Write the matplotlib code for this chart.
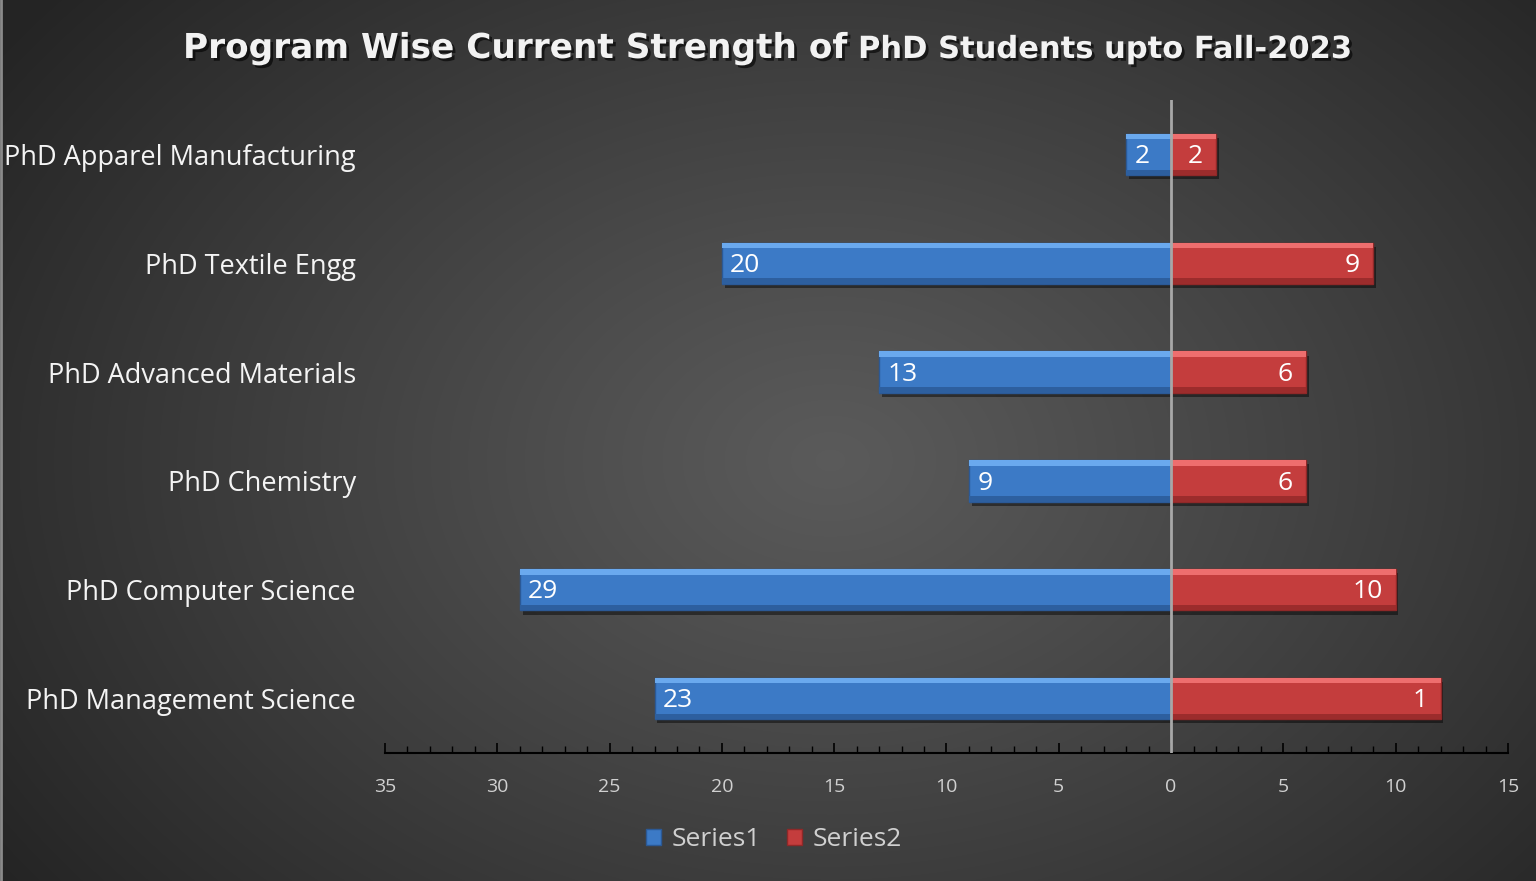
import numpy as np
import matplotlib
matplotlib.use("Agg")
import matplotlib.pyplot as plt
from matplotlib import patheffects as pe
from matplotlib.patches import Patch
from matplotlib.ticker import MultipleLocator, FuncFormatter

# ---------------- data ----------------
categories = ["PhD Management Science", "PhD Computer Science", "PhD Chemistry",
              "PhD Advanced Materials", "PhD Textile Engg", "PhD Apparel Manufacturing"]
series1 = [23, 29, 9, 13, 20, 2]
series2 = [12, 10, 6, 6, 9, 2]
series1_labels = ["23", "29", "9", "13", "20", "2"]
series2_labels = ["1", "10", "6", "6", "9", "2"]
series_names = ["Series1", "Series2"]
x_limits = (-35, 15)
title_main = "Program Wise Current Strength of"
title_sub = "PhD Students upto Fall-2023"

FONT = "Open Sans"
TFONT = "DejaVu Sans"
W, H = 1536, 881
fig = plt.figure(figsize=(W / 100, H / 100), dpi=100)

# ---------------- background radial gradient ----------------
bg = fig.add_axes([0, 0, 1, 1])
bg.axis("off")
yy, xx = np.mgrid[0:H, 0:W]
r = np.sqrt(((xx - 830) / 1000.0) ** 2 + ((yy - 460) / 720.0) ** 2)
r = np.clip(r, 0, 1)
v = 0.355 - 0.21 * r ** 1.1
img = np.dstack([v, v, v])
bg.imshow(img, extent=[0, W, H, 0], aspect="auto", interpolation="bilinear")
bg.set_xlim(0, W)
bg.set_ylim(H, 0)
bg.plot([1, 1], [0, H], color="#8a8a8a", lw=2)

# ---------------- main axes ----------------
ax = fig.add_axes([385 / W, 1 - 753 / H, (1508 - 385) / W, (753 - 100) / H])
ax.patch.set_alpha(0)
y = np.arange(len(categories))
s1 = -np.array(series1, dtype=float)
s2 = np.array(series2, dtype=float)
bh = 0.38
strip = 0.05

blue, blue_hi, blue_lo, blue_edge = "#3c7ac6", "#6aa9ee", "#2d5f9f", "#2b5996"
red, red_hi, red_lo, red_edge = "#c43d3d", "#ee6e6e", "#9c2c2c", "#8f2828"

shadow = [pe.SimplePatchShadow(offset=(2, -3), shadow_rgbFace="black", alpha=0.45), pe.Normal()]

for vals, c, chi, clo, ce in [(s1, blue, blue_hi, blue_lo, blue_edge),
                              (s2, red, red_hi, red_lo, red_edge)]:
    bars = ax.barh(y, vals, height=bh, color=c, edgecolor=ce, linewidth=1, zorder=2)
    for b in bars:
        b.set_path_effects(shadow)
    ax.barh(y + bh / 2 - strip / 2, vals, height=strip, color=chi, linewidth=0, zorder=3)
    ax.barh(y - bh / 2 + strip / 2, vals, height=strip, color=clo, linewidth=0, zorder=3)

# value labels
for yi, v1, l1 in zip(y, s1, series1_labels):
    ax.annotate(l1, (v1, yi), xytext=(6, -1.5), textcoords="offset points",
                ha="left", va="center", color="white", fontsize=19, family=FONT, zorder=5)
for yi, v2, l2 in zip(y, s2, series2_labels):
    ax.annotate(l2, (v2, yi), xytext=(-9.5, -1.5), textcoords="offset points",
                ha="right", va="center", color="white", fontsize=19, family=FONT, zorder=5)

ax.axvline(0, color="#a8a8a8", lw=2, zorder=4)

ax.set_xlim(*x_limits)
ax.set_ylim(-0.5, len(categories) - 0.5)
ax.set_yticks(y)
ax.set_yticklabels(categories, family=FONT)
for s in ["top", "right", "left"]:
    ax.spines[s].set_visible(False)
ax.spines["bottom"].set_color("black")
ax.spines["bottom"].set_linewidth(1.5)
ax.xaxis.set_major_locator(MultipleLocator(5))
ax.xaxis.set_minor_locator(MultipleLocator(1))
ax.xaxis.set_major_formatter(FuncFormatter(lambda x, p: f"{abs(int(round(x)))}"))
ax.tick_params(axis="x", which="major", direction="in", length=7, width=1.2, color="black",
               labelcolor="#d0d0d0", labelsize=14, pad=18)
ax.tick_params(axis="x", which="minor", direction="in", length=5, width=1.0, color="black")
ax.tick_params(axis="y", length=0, labelcolor="#f4f4f4", labelsize=19.5, pad=21)
for t in ax.get_xticklabels():
    t.set_family(FONT)

# legend
handles = [Patch(facecolor=blue, edgecolor=blue_edge), Patch(facecolor=red, edgecolor=red_edge)]
leg = fig.legend(handles, series_names, loc="center", bbox_to_anchor=(774 / W, 1 - 840 / H),
                 ncol=2, frameon=False, labelcolor="#d0d0d0",
                 handlelength=0.55, handleheight=0.55, handletextpad=0.4, columnspacing=1.0,
                 prop={"family": FONT, "size": 19})

# title (two parts, second part slightly smaller)
base_y = 1 - 58 / H
tfx = [pe.SimplePatchShadow(offset=(2, -2), shadow_rgbFace="black", alpha=0.6), pe.Normal()]
t1 = fig.text(183 / W, base_y, title_main, ha="left", va="baseline", fontsize=22,
              fontweight="bold", family=TFONT, color="#f2f2f2")
fig.canvas.draw()
w1 = t1.get_window_extent().width
t1.set_fontsize(22 * 662 / w1)
t1.set_path_effects(tfx)
fig.canvas.draw()
t2 = fig.text(858 / W, base_y, title_sub, ha="left", va="baseline", fontsize=19,
              fontweight="bold", family=TFONT, color="#f2f2f2")
fig.canvas.draw()
w2 = t2.get_window_extent().width
t2.set_fontsize(19 * 494 / w2)
t2.set_path_effects(tfx)

fig.savefig("out.png", dpi=100)
